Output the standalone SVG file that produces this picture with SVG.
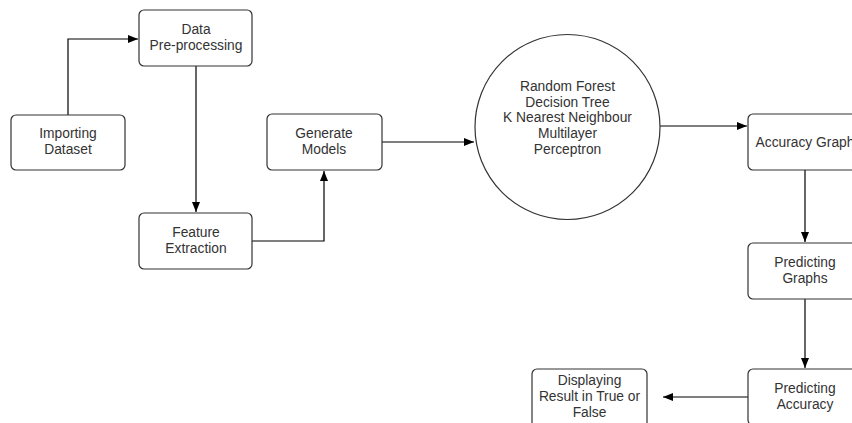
<svg xmlns="http://www.w3.org/2000/svg" width="852" height="423" viewBox="0 0 852 423">
<style>
.n{fill:#fff;stroke:#333;stroke-width:1.2}
.t{font-family:"Liberation Sans",Arial,sans-serif;font-size:13.8px;fill:#333;text-anchor:middle}
.c{fill:none;stroke:#000;stroke-width:1.2}
</style>
<defs>
<marker id="a" markerWidth="10" markerHeight="8" refX="10" refY="4" orient="auto" markerUnits="userSpaceOnUse">
<path d="M0,0 L10,4 L0,8 Z" fill="#000"/>
</marker>
</defs>
<rect width="852" height="423" fill="#fff"/>
<g id="connectors">
<path class="c" d="M68,115 V39 H138" marker-end="url(#a)"/>
<path class="c" d="M196,66 V212" marker-end="url(#a)"/>
<path class="c" d="M252,241 H324 V171" marker-end="url(#a)"/>
<path class="c" d="M382,142 H474" marker-end="url(#a)"/>
<path class="c" d="M660,126 H747" marker-end="url(#a)"/>
<path class="c" d="M805,170 V242" marker-end="url(#a)"/>
<path class="c" d="M805,299 V368" marker-end="url(#a)"/>
<path class="c" d="M748,397 H663" marker-end="url(#a)"/>
</g>
<g id="importing">
<rect class="n" x="11" y="115" width="114" height="55" rx="5"/>
<text class="t" x="68" y="138">Importing</text>
<text class="t" x="68" y="154">Dataset</text>
</g>
<g id="preprocessing">
<rect class="n" x="139" y="10" width="113" height="56" rx="5"/>
<text class="t" x="196" y="34">Data</text>
<text class="t" x="196" y="50">Pre-processing</text>
</g>
<g id="feature">
<rect class="n" x="139" y="213" width="113" height="56" rx="5"/>
<text class="t" x="196" y="237">Feature</text>
<text class="t" x="196" y="253">Extraction</text>
</g>
<g id="generate">
<rect class="n" x="267" y="114" width="115" height="56" rx="5"/>
<text class="t" x="324" y="138">Generate</text>
<text class="t" x="324" y="154">Models</text>
</g>
<g id="models">
<circle class="n" cx="567.5" cy="127" r="92.5"/>
<text class="t" x="567.5" y="91">Random Forest</text>
<text class="t" x="567.5" y="107">Decision Tree</text>
<text class="t" x="567.5" y="122">K Nearest Neighbour</text>
<text class="t" x="567.5" y="138">Multilayer</text>
<text class="t" x="567.5" y="154">Perceptron</text>
</g>
<g id="accuracygraph">
<rect class="n" x="748" y="114" width="114" height="56" rx="5"/>
<text class="t" x="805" y="147">Accuracy Graph</text>
</g>
<g id="predictinggraphs">
<rect class="n" x="748" y="243" width="114" height="56" rx="5"/>
<text class="t" x="805" y="267">Predicting</text>
<text class="t" x="805" y="283">Graphs</text>
</g>
<g id="predictingaccuracy">
<rect class="n" x="748" y="369" width="114" height="56" rx="5"/>
<text class="t" x="805" y="393">Predicting</text>
<text class="t" x="805" y="409">Accuracy</text>
</g>
<g id="displaying">
<rect class="n" x="532" y="369" width="115" height="60" rx="5"/>
<text class="t" x="589.5" y="385">Displaying</text>
<text class="t" x="589.5" y="401">Result in True or</text>
<text class="t" x="589.5" y="417">False</text>
</g>
</svg>
